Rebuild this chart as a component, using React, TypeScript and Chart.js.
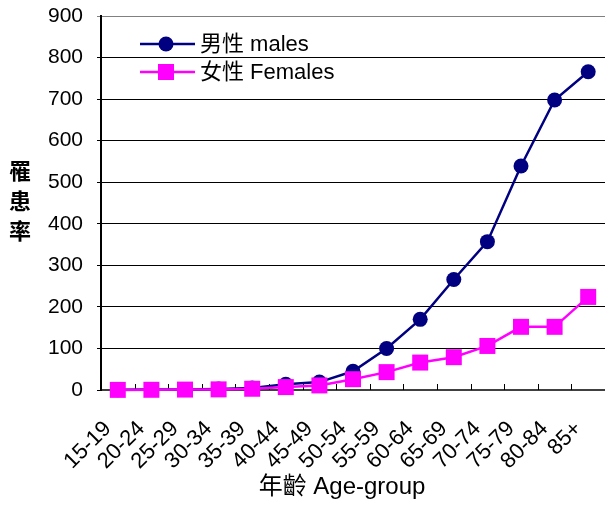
import React, { useEffect, useRef } from 'react';
import { Chart, registerables } from 'chart.js';

Chart.register(...registerables);

const categories = ['15-19', '20-24', '25-29', '30-34', '35-39', '40-44', '45-49', '50-54', '55-59', '60-64', '65-69', '70-74', '75-79', '80-84', '85+'];
const males = [0.5, 1, 1.5, 2.5, 5, 14, 19, 45, 100, 170, 266, 357, 539, 698, 766];
const females = [0.3, 0.5, 1, 1.5, 3, 7, 11, 26, 43, 66, 79, 106, 152, 152, 224];
const maleLabel = '男性 males';
const femaleLabel = '女性 Females';
const yTitleChars = ['罹', '患', '率'];
const xTitle = '年齡 Age-group';
const yMin = 0;
const yMax = 900;
const yStep = 100;

const MALE_COLOR = '#000080';
const FEMALE_COLOR = '#FF00FF';
const LATIN = "'Liberation Sans', Arial, 'Noto Sans CJK TC', sans-serif";

const customPlugin = {
  id: 'customDecor',
  beforeDatasetsDraw(chart: any) {
    const ctx = chart.ctx;
    const xs = chart.scales.x;
    const area = chart.chartArea;
    ctx.save();
    ctx.strokeStyle = '#000';
    ctx.lineWidth = 1;
    for (let i = 0; i <= categories.length; i++) {
      const px = Math.round(xs.getPixelForValue(i - 0.5)) + 0.5;
      ctx.beginPath();
      ctx.moveTo(px, area.bottom);
      ctx.lineTo(px, area.bottom - 6);
      ctx.stroke();
    }
    ctx.restore();
  },
  afterDraw(chart: any) {
    const ctx = chart.ctx;
    ctx.save();
    // Y title (stacked characters)
    ctx.fillStyle = '#000';
    ctx.font = "bold 22px 'Noto Sans CJK TC', sans-serif";
    ctx.textAlign = 'center';
    ctx.textBaseline = 'middle';
    yTitleChars.forEach((c, i) => {
      ctx.fillText(c, 20, 171 + i * 30);
    });
    // X title
    ctx.font = `24px ${LATIN}`;
    ctx.textAlign = 'center';
    ctx.textBaseline = 'middle';
    ctx.fillText(xTitle, 342, 487);

    // Legend
    const items = [
      { label: maleLabel, color: MALE_COLOR, style: 'circle', y: 44 },
      { label: femaleLabel, color: FEMALE_COLOR, style: 'rect', y: 72 },
    ];
    items.forEach((it) => {
      ctx.strokeStyle = it.color;
      ctx.fillStyle = it.color;
      ctx.lineWidth = 2.5;
      ctx.beginPath();
      ctx.moveTo(140, it.y);
      ctx.lineTo(195, it.y);
      ctx.stroke();
      if (it.style === 'circle') {
        ctx.beginPath();
        ctx.arc(166, it.y, 7.5, 0, Math.PI * 2);
        ctx.fill();
      } else {
        ctx.fillRect(166 - 8, it.y - 8, 16, 16);
      }
      ctx.fillStyle = '#000';
      ctx.font = `22px ${LATIN}`;
      ctx.textAlign = 'left';
      ctx.textBaseline = 'middle';
      ctx.fillText(it.label, 200, it.y + 1);
    });
    ctx.restore();
  },
};

export default function App() {
  const ref = useRef<HTMLCanvasElement>(null);
  useEffect(() => {
    if (!ref.current) return;
    const chart = new Chart(ref.current, {
      type: 'line',
      data: {
        labels: categories,
        datasets: [
          {
            label: maleLabel,
            data: males,
            borderColor: MALE_COLOR,
            backgroundColor: MALE_COLOR,
            borderWidth: 2.5,
            pointStyle: 'circle',
            pointRadius: 7.5,
            pointBorderWidth: 0,
            pointBackgroundColor: MALE_COLOR,
            tension: 0,
            clip: false as any,
            order: 1,
          },
          {
            label: femaleLabel,
            data: females,
            borderColor: FEMALE_COLOR,
            backgroundColor: FEMALE_COLOR,
            borderWidth: 2.5,
            pointStyle: 'rect',
            pointRadius: 11.3,
            pointBorderWidth: 0,
            pointBackgroundColor: FEMALE_COLOR,
            tension: 0,
            clip: false as any,
            order: 0,
          },
        ],
      },
      options: {
        animation: false,
        responsive: false,
        maintainAspectRatio: false,
        layout: { autoPadding: false, padding: { top: 16, right: 0, left: 0, bottom: 0 } },
        plugins: {
          legend: { display: false },
          tooltip: { enabled: false },
        },
        scales: {
          x: {
            type: 'category',
            offset: true,
            grid: { display: false, drawOnChartArea: false, drawTicks: false },
            border: { display: true, color: '#404040', width: 2 },
            ticks: {
              autoSkip: false,
              maxRotation: 45,
              minRotation: 45,
              color: '#000',
              padding: 26,
              labelOffset: -10,
              font: { family: LATIN, size: 22 },
            },
            afterFit: (s: any) => {
              s.height = 116;
              s.paddingLeft = 0;
              s.paddingRight = 0;
            },
          },
          y: {
            min: yMin,
            max: yMax,
            grid: {
              color: (c: any) => (c.tick && c.tick.value === yMax ? '#808080' : '#000'),
              lineWidth: 1,
              tickLength: 4,
              drawTicks: true,
            },
            border: { display: true, color: '#000', width: 2 },
            ticks: {
              stepSize: yStep,
              color: '#000',
              padding: 14,
              font: { family: LATIN, size: 21 },
            },
            afterFit: (s: any) => {
              s.width = 101;
              s.paddingTop = 0;
              s.paddingBottom = 0;
            },
          },
        },
      },
      plugins: [customPlugin],
    });
    return () => chart.destroy();
  }, []);
  return (
    <div style={{ position: 'fixed', left: 0, top: 0, width: 605, height: 506, background: '#fff' }}>
      <canvas ref={ref} width={605} height={506} style={{ display: 'block' }} />
    </div>
  );
}
